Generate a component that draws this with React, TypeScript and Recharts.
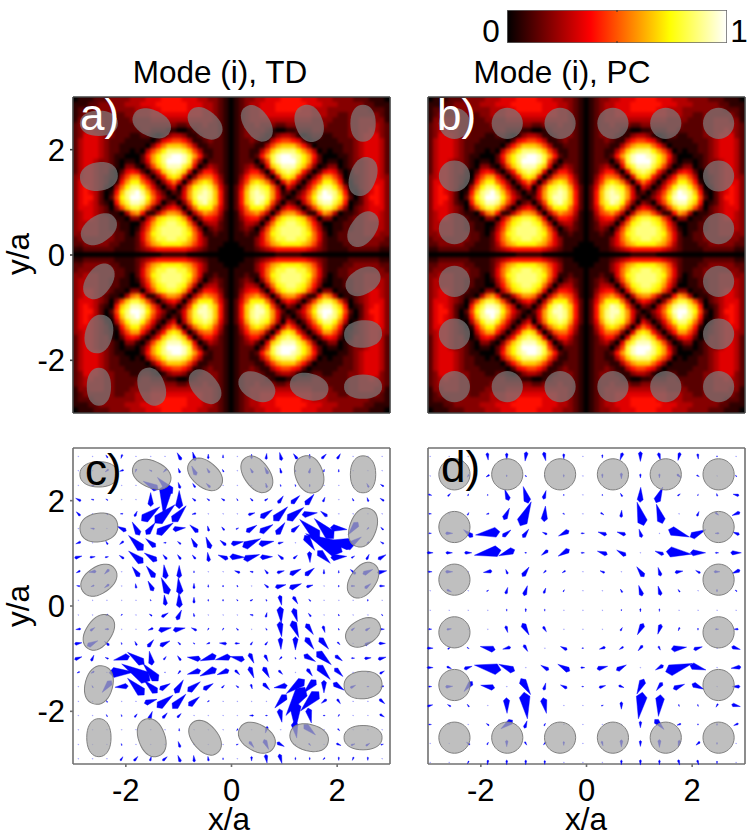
import React from "react";
import { ScatterChart, Scatter, XAxis, YAxis, ReferenceArea } from "recharts";

const FONT = "'Liberation Sans', Arial, sans-serif";
const AXIS_TICKS = [-2, 0, 2];
const DOMAIN: [number, number] = [-3, 3];

// |E|^2 in the upper-left quadrant of the map, hex digits 0..f; last row and column lie on the axes
const HEAT_QUADRANT = [
  "01112 22333 34445 55666 65554 43321 0",
  "11122 33333 44455 56666 66555 44321 0",
  "12223 33333 33444 55666 66555 44321 0",
  "12333 33322 33444 55555 55555 44321 0",
  "13344 43322 23333 44444 44444 44321 0",
  "23444 43322 22333 33333 22333 43321 0",
  "23454 43322 22233 22211 00123 33321 0",
  "23555 43322 21122 10134 43112 33321 0",
  "24555 43222 11111 02567 76411 23221 0",
  "24555 43221 11110 368aa a9741 12221 0",
  "24555 43221 10104 79bdd dca74 11221 0",
  "24555 43211 00026 9bdef fec96 21221 0",
  "24554 33210 11025 9bdff fec73 02221 0",
  "24554 33210 33103 7acee eca50 24321 0",
  "24554 33102 56520 36acd ca503 66421 0",
  "34554 32104 79963 036ab a5037 88631 0",
  "35554 32016 9bb86 30368 5048a ba741 0",
  "35654 31048 bddb8 52035 048bc dc952 0",
  "35654 2016a defda 74202 159cd eda62 0",
  "35664 2027b dffeb 85310 259ce eda62 0",
  "35654 2106a ceeda 74023 037bd eca62 0",
  "35554 32037 accA7 30356 4048b bb852 0",
  "34554 32110 48961 14799 84047 98741 0",
  "34554 33211 03304 7abcc b9503 66531 0",
  "34444 33221 10036 9bcdd cb840 34421 0",
  "34444 33221 10147 acddd dca73 02321 0",
  "33444 33322 10258 bcddd dcb85 11211 0",
  "23333 33322 11258 accdd cca85 31111 0",
  "22333 33221 11247 9abbb ba975 31110 0",
  "11222 22211 11234 56666 66543 21100 0",
  "00000 00000 00000 00111 11000 00000 0",
];

// rods: positions (a, c) and shape
const ROD_X = [-2.51, -1.51, -0.5, 0.48, 1.47, 2.49, -2.51, -2.51, -2.51, -2.51, -2.51, -1.51, -0.5, 0.48, 1.47, 2.49, 2.49, 2.49, 2.49, 2.49];
const ROD_Y = [2.5, 2.5, 2.5, 2.5, 2.5, 2.5, 1.49, 0.49, -0.5, -1.5, -2.5, -2.5, -2.5, -2.5, -2.5, -2.5, -1.5, -0.5, 0.49, 1.49];
const ROD_RX = [0.36, 0.38, 0.37, 0.38, 0.36, 0.35, 0.36, 0.37, 0.37, 0.37, 0.36, 0.37, 0.37, 0.37, 0.37, 0.36, 0.36, 0.35, 0.37, 0.38];
const ROD_RY = [0.24, 0.25, 0.24, 0.24, 0.26, 0.24, 0.27, 0.25, 0.24, 0.26, 0.23, 0.25, 0.24, 0.25, 0.25, 0.23, 0.26, 0.24, 0.24, 0.25];
const ROD_ANGLE = [0, 25, 40, 55, 70, 90, -10, -35, -55, -75, 90, 70, 50, 30, 15, 0, -5, -30, -55, -70];
// ideal lattice (b, d)
const IDEAL_X = [-2.5, -1.5, -0.5, 0.5, 1.5, 2.5, -2.5, -2.5, -2.5, -2.5, -2.5, -1.5, -0.5, 0.5, 1.5, 2.5, 2.5, 2.5, 2.5, 2.5];
const IDEAL_Y = [2.5, 2.5, 2.5, 2.5, 2.5, 2.5, 1.5, 0.5, -0.5, -1.5, -2.5, -2.5, -2.5, -2.5, -2.5, -2.5, -1.5, -0.5, 0.5, 1.5];
const IDEAL_R = 0.295;

// quiver grid of panel c
const GRID_C_X = [-2.9, -2.63, -2.36, -2.08, -1.81, -1.53, -1.26, -0.99, -0.71, -0.44, -0.16, 0.11, 0.38, 0.66, 0.93, 1.21, 1.48, 1.75, 2.03, 2.3, 2.58, 2.85];
const GRID_C_Y = [2.84, 2.57, 2.29, 2.02, 1.75, 1.47, 1.2, 0.93, 0.65, 0.38, 0.11, -0.17, -0.44, -0.71, -0.99, -1.26, -1.53, -1.81, -2.08, -2.35, -2.63, -2.9];
// each row: [column, u, v] (v grows downwards on the page)
const QUIVER_C = [
  [[2,6,8],[3,4,-12],[7,12,22],[8,8,26],[9,0,14],[10,0,10],[12,0,14],[13,-2,18],[14,6,24],[15,12,16],[16,0,14],[17,-14,14],[18,-10,16]],
  [[2,10,-8],[3,12,-4],[4,4,-10],[5,8,4],[6,10,-10],[7,5,14],[8,14,28],[9,8,14],[10,4,8],[12,8,14],[13,10,20],[14,4,16],[15,2,6],[16,-4,16],[17,-2,8],[18,0,8]],
  [[1,10,0],[5,45,25],[6,45,48],[7,6,18],[8,8,12],[9,12,12],[13,4,14],[14,2,6],[15,2,6],[16,0,8],[20,6,12],[21,10,6]],
  [[0,16,8],[1,8,2],[2,6,4],[5,0,42],[6,8,-95],[7,0,55],[8,10,8],[9,8,6],[10,10,6],[11,4,6],[12,8,8],[13,-10,6],[14,-16,22],[15,-26,24],[16,-26,32],[17,-6,14],[19,4,8],[20,4,12],[21,12,8]],
  [[0,12,12],[2,6,4],[3,8,0],[4,-8,16],[5,-55,42],[6,-60,55],[7,-42,48],[8,12,-3],[12,-20,6],[13,-36,24],[14,-42,42],[15,-50,38],[16,-46,6],[17,20,16]],
  [[1,12,2],[3,28,14],[4,22,40],[5,-27,35],[6,-50,34],[7,-38,5],[8,25,22],[9,4,16],[10,8,10],[11,-8,4],[12,-32,20],[13,-40,24],[14,-26,36],[15,-24,20],[16,60,55],[17,58,60],[18,-50,-6],[19,30,-38],[20,6,-6],[21,8,8]],
  [[0,15,-6],[2,6,10],[3,12,-10],[4,44,44],[5,30,25],[6,8,0],[7,10,8],[8,16,28],[9,14,35],[10,18,15],[11,-37,7],[12,-54,25],[13,-45,9],[14,-16,4],[16,-30,-45],[17,110,55],[18,85,12],[19,-50,35],[20,6,-6],[21,10,6]],
  [[0,-22,6],[1,-16,2],[2,-10,2],[3,14,10],[4,44,36],[5,38,24],[6,12,14],[7,10,14],[8,10,12],[9,4,28],[10,30,12],[11,-45,-2],[12,-48,15],[13,-37,2],[14,16,14],[15,-12,10],[16,-2,-33],[17,-38,-38],[18,-48,4],[19,-10,6],[20,-8,16],[21,-24,14]],
  [[0,12,-6],[1,22,-3],[2,14,-14],[4,22,30],[5,26,34],[6,6,42],[7,0,38],[8,0,6],[11,16,6],[12,10,2],[13,10,12],[14,-22,6],[15,-34,16],[16,-28,22],[17,0,14],[18,0,8],[19,16,14],[20,-30,14],[21,-28,6]],
  [[0,10,2],[1,10,-4],[2,14,-10],[4,2,14],[5,16,30],[6,22,50],[7,6,50],[8,0,16],[9,0,8],[10,0,6],[11,2,6],[13,12,10],[14,-32,8],[15,-36,14],[16,-20,6],[18,0,6],[19,-12,0],[20,-18,14],[21,-16,0]],
  [[5,2,4],[6,4,32],[7,2,45],[8,0,18],[9,0,6],[10,0,6],[11,4,4],[12,-8,4],[13,2,6],[14,-6,-30],[15,-14,-22],[16,6,6],[20,0,6]],
  [[2,6,-4],[3,4,-4],[5,8,6],[6,-20,12],[7,-14,30],[8,2,10],[12,10,2],[13,-4,14],[14,-4,-50],[15,-12,-40],[16,8,10],[18,2,6],[21,4,4]],
  [[0,15,-2],[1,-14,10],[2,12,0],[5,15,-6],[6,-38,8],[7,-36,7],[8,16,8],[9,4,-6],[10,4,-6],[11,6,6],[13,4,6],[14,-6,-45],[15,-20,-50],[16,-22,-32],[17,-6,-20],[18,2,6],[19,-10,8],[20,-14,8],[21,-14,0]],
  [[0,-22,4],[1,-32,16],[2,14,12],[3,2,6],[4,6,12],[5,-18,22],[6,-30,15],[7,8,8],[8,4,4],[9,10,-4],[10,22,2],[11,-14,0],[12,-6,10],[13,-8,10],[14,-2,-36],[15,0,-40],[16,-25,-35],[17,-28,-34],[18,-8,-8],[20,-18,10],[21,-20,0]],
  [[0,-22,8],[1,-8,18],[2,10,4],[3,48,-12],[4,50,35],[5,8,42],[6,-8,10],[7,10,14],[8,40,6],[9,48,-16],[10,46,-10],[11,43,10],[12,-14,-30],[13,-10,-20],[14,8,-8],[15,2,6],[16,-35,-20],[17,-44,-39],[18,-22,-16],[19,-10,0],[20,-20,2],[21,-24,6]],
  [[0,8,-4],[1,10,-6],[3,-75,2],[4,85,50],[5,45,52],[6,2,0],[7,8,-10],[8,40,-12],[9,50,-22],[10,36,-14],[11,-14,-14],[12,-14,-34],[13,-18,-32],[14,-12,-12],[16,-16,-22],[17,-38,-43],[18,-25,-25],[21,-14,8]],
  [[1,4,6],[2,28,-35],[3,40,-4],[4,50,50],[5,40,38],[6,-32,18],[7,-25,40],[8,-38,29],[9,-30,18],[10,-8,8],[11,8,6],[12,-4,-14],[13,-20,-20],[14,40,-7],[15,55,-42],[16,38,-40],[17,0,-38],[18,-33,-22],[19,-16,8],[20,6,0],[21,10,-4]],
  [[2,4,6],[5,-38,12],[6,-48,37],[7,-40,43],[8,-33,27],[9,6,-4],[14,35,-40],[15,57,-85],[16,55,-58],[17,16,-12],[18,-10,-14],[21,-16,-14]],
  [[2,4,6],[3,2,6],[4,-8,10],[5,-10,25],[6,-14,16],[7,-12,12],[12,12,0],[13,6,0],[14,-8,-40],[15,0,-85],[16,-10,-45],[17,6,0],[18,4,-6],[21,-14,-8]],
  [[7,0,8],[11,4,-6],[13,6,-20],[15,-8,-50],[16,-35,-31],[18,-6,-6]],
  [[3,2,6],[7,6,18],[11,-6,2],[12,-14,-18],[13,-14,-30],[14,-22,-12],[16,-6,-6],[18,-14,-6],[19,-12,4],[20,-12,8],[21,-8,2]],
  [[3,-8,12],[4,-12,14],[5,-4,14],[6,-14,12],[7,8,20],[8,2,20],[9,2,14],[10,0,6],[12,0,-14],[13,-4,-26],[14,-8,-28],[15,0,-8],[16,0,-8],[17,6,-6],[18,0,-10],[19,4,-10],[20,0,-10]],
];

// quiver grid of panel d
const GRID_D_X = [-2.96, -2.6, -2.24, -1.87, -1.51, -1.15, -0.79, -0.43, -0.07, 0.3, 0.66, 1.02, 1.38, 1.75, 2.11, 2.47, 2.83];
const GRID_D_Y = [2.84, 2.47, 2.11, 1.75, 1.38, 1.01, 0.65, 0.29, -0.08, -0.44, -0.8, -1.17, -1.53, -1.89, -2.25, -2.61, -2.97];
const QUIVER_D = [
  [[3,-3,-22],[4,0,-20],[5,4,-28],[6,-6,-26],[7,0,-16],[9,0,-10],[10,8,-22],[11,0,-30],[12,-6,-22],[13,6,-24],[14,-2,-16],[15,0,-4]],
  [[2,4,-8],[3,10,-6],[4,0,-6],[5,4,4],[7,0,-8],[9,0,-12],[10,0,-18],[11,0,-12],[12,0,-12],[13,-12,-10],[14,-8,-4],[16,4,4]],
  [[0,-10,-3],[1,-8,8],[2,-2,6],[3,0,4],[4,12,34],[5,15,50],[6,-8,26],[7,0,4],[9,0,4],[10,6,10],[11,-2,45],[12,-20,47],[13,-8,6],[14,-2,4],[15,2,8],[16,18,4]],
  [[0,-8,0],[2,-4,8],[3,8,-2],[4,-17,35],[5,-33,72],[6,-4,47],[7,-6,-2],[9,-10,-6],[10,-2,22],[11,20,70],[12,18,58],[14,-6,14],[15,-10,-8],[16,24,-10]],
  [[0,-8,0],[1,-22,0],[2,28,22],[3,73,-10],[4,-25,20],[5,-18,25],[6,14,6],[7,32,-16],[8,-10,0],[9,26,8],[10,26,8],[11,8,25],[13,-63,-22],[14,-47,22],[15,12,0],[16,20,8]],
  [[0,-18,0],[1,-20,0],[2,-22,0],[3,80,-15],[4,48,-18],[5,-6,0],[6,20,-15],[7,34,-20],[8,-10,0],[9,30,10],[10,28,16],[12,26,10],[13,-76,-8],[14,-46,0],[15,-10,0],[16,-32,0]],
  [[0,-12,0],[1,-22,0],[3,26,-4],[4,6,14],[5,-20,28],[6,8,-8],[7,10,-6],[9,14,6],[11,22,30],[12,8,26],[13,-24,4],[14,14,8],[15,-18,0],[16,24,-10]],
  [[1,-14,-6],[3,-6,4],[4,-6,20],[5,-10,30],[6,-6,16],[7,-4,6],[10,6,10],[11,10,32],[12,8,28],[13,6,8],[15,0,-8],[16,6,4]],
  [[4,0,-6],[5,0,-10],[6,0,-6],[10,0,-4],[11,0,-10],[12,0,-8]],
  [[0,-10,0],[1,-14,2],[4,-6,-20],[5,-20,-35],[6,-10,-16],[10,-6,10],[11,18,-34],[12,10,-30],[13,4,-10],[14,0,-6],[15,-10,0],[16,14,0]],
  [[0,-18,0],[1,-8,6],[2,-6,-4],[3,45,10],[4,24,-6],[5,-12,-20],[7,20,10],[8,-6,0],[9,18,-6],[10,12,-8],[11,14,-16],[12,-6,-12],[13,-46,6],[14,-26,8],[16,-26,-8]],
  [[0,-18,0],[1,-14,-6],[2,-24,8],[3,80,15],[4,48,20],[6,24,14],[7,36,20],[8,-12,0],[9,-32,8],[10,-30,16],[12,24,-14],[13,-80,25],[14,-48,-14],[16,30,-4]],
  [[0,-10,0],[1,-22,2],[2,25,-30],[3,42,8],[5,-29,-48],[6,-6,22],[7,20,10],[8,-6,0],[9,-20,6],[10,-16,-6],[11,21,-45],[12,18,-24],[13,-34,14],[14,-36,-16],[16,24,0]],
  [[0,-16,4],[1,10,6],[2,6,8],[4,-2,-47],[5,-10,-80],[6,-10,-47],[9,-6,2],[10,0,-22],[11,12,-80],[12,6,-65],[13,-2,-6],[14,-2,-6],[15,6,-10],[16,-26,-6]],
  [[0,-8,0],[3,8,6],[4,35,-26],[5,-8,22],[6,-4,8],[11,0,-20],[12,-28,-30],[13,12,-4],[14,0,-4],[15,0,-6],[16,14,-6]],
  [[2,10,8],[3,-4,8],[4,0,-20],[5,-6,-10],[6,8,-8],[7,0,-12],[9,-4,-14],[10,0,-22],[11,0,-18],[12,0,-24],[13,4,-20],[14,12,-10],[15,0,-6]],
  [[2,4,-8],[3,2,-14],[4,0,-14],[5,0,-14],[6,0,-12],[10,0,-14],[11,0,-16],[12,0,-14],[13,-4,-16],[14,-4,-14],[15,0,-8]],
];
const TINY_VECTOR = [3, 1.5];

const HOT_STOPS = [
  { at: 0, color: "#000000" },
  { at: 0.38, color: "#ff0000" },
  { at: 0.74, color: "#ffff00" },
  { at: 1, color: "#ffffff" },
];
const BAR_TICKS = [{ x: 0.5, y: 0 }, { x: 0.5, y: 1 }];

// ---------- derived tables ----------
function hot(t: number) {
  const r = Math.min(1, t / 0.38);
  const g = Math.max(0, Math.min(1, (t - 0.38) / 0.36));
  const b = Math.max(0, Math.min(1, (t - 0.74) / 0.26));
  return `rgb(${Math.round(r * 255)},${Math.round(g * 255)},${Math.round(b * 255)})`;
}
function buildHeat() {
  const q = HEAT_QUADRANT.map((s) => s.replace(/ /g, "").split("").map((c) => parseInt(c, 16) / 15));
  const top = q.map((row) => [...row, ...row.slice(0, -1).reverse()]);
  const rows = [...top, ...top.slice(0, -1).reverse()];
  const n = rows.length;
  const out: any[] = [];
  rows.forEach((row, j) =>
    row.forEach((v, i) =>
      out.push({ x: -3 + ((i + 0.5) * 6) / n, y: 3 - ((j + 0.5) * 6) / n, v, i, j, n })
    )
  );
  return out;
}
const HEAT = buildHeat();
const rodsReal = ROD_X.map((x, k) => ({ x, y: ROD_Y[k], rx: ROD_RX[k], ry: ROD_RY[k], angle: ROD_ANGLE[k] }));
const rodsIdeal = IDEAL_X.map((x, k) => ({ x, y: IDEAL_Y[k], rx: IDEAL_R, ry: IDEAL_R, angle: 0 }));
function buildQuiver(rows: number[][][], gx: number[], gy: number[]) {
  const out: any[] = [];
  gy.forEach((y, r) => {
    const listed: Record<number, number[]> = {};
    (rows[r] || []).forEach((a) => (listed[a[0]] = a));
    gx.forEach((x, c) => {
      const a = listed[c];
      out.push({ x, y, u: a ? a[1] : TINY_VECTOR[0], v: a ? a[2] : TINY_VECTOR[1], tiny: !a });
    });
  });
  return out;
}
const ARROWS_C = buildQuiver(QUIVER_C, GRID_C_X, GRID_C_Y);
const ARROWS_D = buildQuiver(QUIVER_D, GRID_D_X, GRID_D_Y);

// ---------- marks ----------
const PANEL_W = 317;
const PANEL_H = 316;
const PX = PANEL_W / 6;
const PAD = 14;

function HeatCell(props: any) {
  const { cx, cy, payload: p } = props;
  const w = PANEL_W / p.n, h = PANEL_H / p.n;
  const l = cx - w / 2 - 0.4 - (p.i === 0 ? PAD : 0);
  const r = cx + w / 2 + 0.4 + (p.i === p.n - 1 ? PAD : 0);
  const t = cy - h / 2 - 0.4 - (p.j === 0 ? PAD : 0);
  const b = cy + h / 2 + 0.4 + (p.j === p.n - 1 ? PAD : 0);
  return <rect x={l} y={t} width={r - l} height={b - t} fill={hot(p.v)} />;
}
function ArrowMark(props: any) {
  const { cx, cy, payload: p } = props;
  const dx = p.u / 3, dy = p.v / 3;
  const L = Math.hypot(dx, dy) || 1;
  const ux = dx / L, uy = dy / L;
  const half = Math.max(0.45, L * 0.2);
  const tx = cx + dx / 2, ty = cy + dy / 2;
  const bx = tx - ux * L * 0.18, by = ty - uy * L * 0.18;
  const pts = [
    [cx - dx / 2, cy - dy / 2],
    [bx - uy * half, by + ux * half],
    [tx, ty],
    [bx + uy * half, by - ux * half],
  ].map((q) => q.join(",")).join(" ");
  return <polygon points={pts} fill="#0000ff" stroke="#0000ff" strokeWidth={0.4} opacity={p.tiny ? 0.45 : 1} />;
}
function rodPath(rx: number, ry: number, e: number) {
  const pts: string[] = [];
  for (let k = 0; k < 36; k++) {
    const t = (k / 36) * 2 * Math.PI;
    const c = Math.cos(t), s = Math.sin(t);
    pts.push(`${(Math.sign(c) * Math.pow(Math.abs(c), 2 / e) * rx).toFixed(2)},${(Math.sign(s) * Math.pow(Math.abs(s), 2 / e) * ry).toFixed(2)}`);
  }
  return "M" + pts.join("L") + "Z";
}
const rodShape = (fill: string, stroke: string) => (props: any) => {
  const { cx, cy, payload: p } = props;
  const e = p.rx === p.ry ? 2 : 2.2;
  return (
    <path d={rodPath(p.rx * PX, p.ry * PX, e)} fill={fill} stroke={stroke} strokeWidth={1}
      transform={`translate(${cx} ${cy}) rotate(${p.angle})`} />
  );
};

function HeatLayer({ left, top }: { left: number; top: number }) {
  return (
    <div style={{ position: "absolute", left, top, width: PANEL_W, height: PANEL_H, overflow: "hidden" }}>
      <div style={{ position: "absolute", left: -PAD, top: -PAD, filter: "blur(1.7px)" }}>
        <ScatterChart width={PANEL_W + 2 * PAD} height={PANEL_H + 2 * PAD} margin={{ left: PAD, right: PAD, top: PAD, bottom: PAD }}>
          <XAxis hide type="number" dataKey="x" domain={DOMAIN} />
          <YAxis hide type="number" dataKey="y" domain={DOMAIN} />
          <Scatter data={HEAT} shape={HeatCell} isAnimationActive={false} />
        </ScatterChart>
      </div>
    </div>
  );
}

const TICK_STYLE = { fontSize: 31, fill: "#000", fontFamily: FONT };

function Panel({ left, top, leftLabels, bottomLabels, rods, rodFill, rodStroke, arrows, frame }: any) {
  const LW = 70, TH = 10, RW = 10, BH = 60;
  return (
    <div style={{ position: "absolute", left: left - LW, top: top - TH }}>
      <ScatterChart width={PANEL_W + LW + RW} height={PANEL_H + TH + BH} margin={{ left: 0, right: 0, top: 0, bottom: 0 }}>
        <XAxis xAxisId="b" orientation="bottom" type="number" dataKey="x" domain={DOMAIN} ticks={AXIS_TICKS} height={BH} interval={0}
          tick={bottomLabels ? TICK_STYLE : false} tickSize={3} tickMargin={12} stroke={frame} strokeWidth={1.6} />
        <XAxis xAxisId="t" orientation="top" type="number" dataKey="x" domain={DOMAIN} ticks={AXIS_TICKS} height={TH} interval={0}
          tick={false} tickSize={3} stroke={frame} strokeWidth={1.6} />
        <YAxis yAxisId="l" orientation="left" type="number" dataKey="y" domain={DOMAIN} ticks={AXIS_TICKS} width={LW} interval={0}
          tick={leftLabels ? TICK_STYLE : false} tickSize={3} tickMargin={5} stroke={frame} strokeWidth={1.6} />
        <YAxis yAxisId="r" orientation="right" type="number" dataKey="y" domain={DOMAIN} ticks={AXIS_TICKS} width={RW} interval={0}
          tick={false} tickSize={3} stroke={frame} strokeWidth={1.6} />
        {arrows && <Scatter xAxisId="b" yAxisId="l" data={arrows} shape={ArrowMark} isAnimationActive={false} />}
        <Scatter xAxisId="b" yAxisId="l" data={rods} shape={rodShape(rodFill, rodStroke)} isAnimationActive={false} />
      </ScatterChart>
    </div>
  );
}

function Colorbar() {
  const L = 507, T = 10, W = 220, H = 33;
  return (
    <div style={{ position: "absolute", left: L, top: T }}>
      <ScatterChart width={W} height={H} margin={{ left: 0, right: 0, top: 0, bottom: 0 }}>
        <defs>
          <linearGradient id="hotBar" x1="0" x2="1" y1="0" y2="0">
            {HOT_STOPS.map((s) => <stop key={s.at} offset={s.at} stopColor={s.color} />)}
          </linearGradient>
        </defs>
        <XAxis hide type="number" dataKey="x" domain={[0, 1]} />
        <YAxis hide type="number" dataKey="y" domain={[0, 1]} />
        <ReferenceArea x1={0} x2={1} y1={0} y2={1} fill="url(#hotBar)" fillOpacity={1} stroke="#666" strokeWidth={1.5} />
        <Scatter data={BAR_TICKS} isAnimationActive={false}
          shape={(p: any) => <rect x={p.cx - 0.5} y={p.cy - 2} width={1} height={4} fill="#333" />} />
      </ScatterChart>
    </div>
  );
}

function Labels() {
  const big = { fontFamily: FONT, fontSize: 44 };
  const mid = { fontFamily: FONT, fontSize: 31.5, fill: "#000" };
  return (
    <svg width={747} height={837} style={{ position: "absolute", left: 0, top: 0, pointerEvents: "none" }}>
      <text x={491} y={42} textAnchor="middle" {...mid}>0</text>
      <text x={739} y={42} textAnchor="middle" {...mid}>1</text>
      <text x={220} y={83} textAnchor="middle" {...mid}>Mode (i), TD</text>
      <text x={562} y={83} textAnchor="middle" {...mid}>Mode (i), PC</text>
      <text x={80} y={130} fill="#fff" {...big}>a)</text>
      <text x={437} y={130} fill="#fff" {...big}>b)</text>
      <text x={85} y={485} fill="#000" {...big}>c)</text>
      <text x={441} y={482} fill="#000" {...big}>d)</text>
      <text x={229} y={830} textAnchor="middle" {...mid}>x/a</text>
      <text x={586} y={830} textAnchor="middle" {...mid}>x/a</text>
      <text transform="translate(29 254) rotate(-90)" textAnchor="middle" {...mid}>y/a</text>
      <text transform="translate(29 606) rotate(-90)" textAnchor="middle" {...mid}>y/a</text>
    </svg>
  );
}

export default function App() {
  const A = 73, B = 427.5, R1 = 97, R2 = 448;
  return (
    <div style={{ position: "absolute", left: 0, top: 0, width: 747, height: 837, background: "#fff" }}>
      <Colorbar />
      <HeatLayer left={A} top={R1} />
      <HeatLayer left={B} top={R1} />
      <Panel left={A} top={R1} leftLabels rods={rodsReal} rodFill="rgba(125,125,125,0.7)" rodStroke="none" frame="#444" />
      <Panel left={B} top={R1} rods={rodsIdeal} rodFill="rgba(125,125,125,0.7)" rodStroke="none" frame="#444" />
      <Panel left={A} top={R2} leftLabels bottomLabels rods={rodsReal} rodFill="rgba(170,170,170,0.75)" rodStroke="#808080" arrows={ARROWS_C} frame="#707070" />
      <Panel left={B} top={R2} bottomLabels rods={rodsIdeal} rodFill="rgba(170,170,170,0.75)" rodStroke="#808080" arrows={ARROWS_D} frame="#707070" />
      <Labels />
    </div>
  );
}
